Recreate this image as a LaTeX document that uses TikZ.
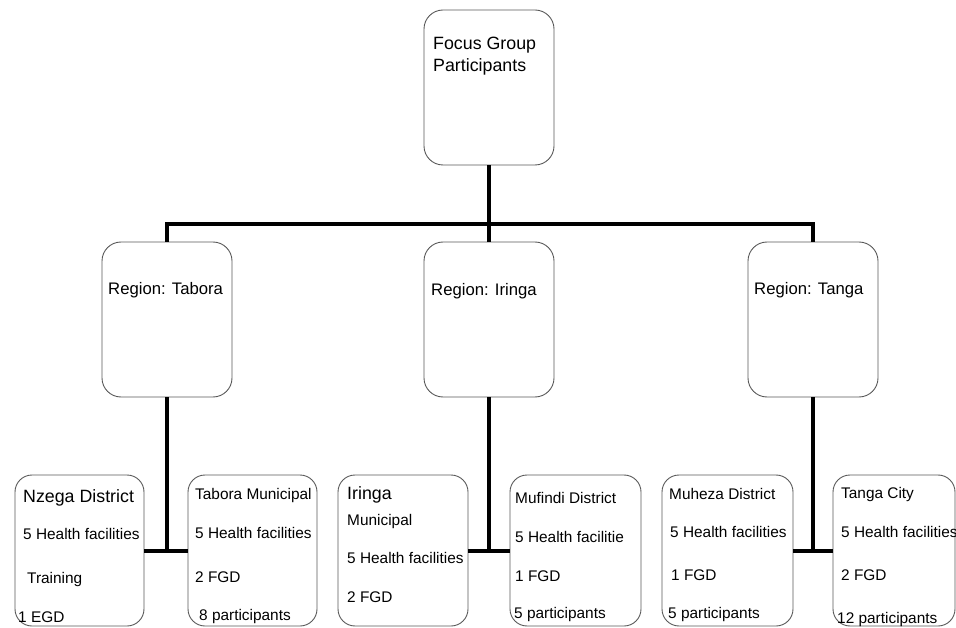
\documentclass[tikz,border=0pt]{standalone}
\usepackage{fontspec}
\setmainfont{Liberation Sans}
\begin{document}
\begin{tikzpicture}[x=1pt,y=-1pt,
  box/.style={draw=black!65,line width=0.9pt,rounded corners=19pt,rectangle,inner sep=0pt},
  lowbox/.style={box,rounded corners=17pt,minimum height=151pt},
  conn/.style={line width=3.6pt,black},
  txt/.style={anchor=base west,inner sep=0pt,font=\fontsize{15.4}{18}\selectfont},
  bigtxt/.style={anchor=base west,inner sep=0pt,font=\fontsize{17.8}{21}\selectfont},
  regtxt/.style={anchor=base west,inner sep=0pt,font=\fontsize{16.7}{20}\selectfont}]
\useasboundingbox (0,0) rectangle (956,628);
% boxes
\node[box,minimum width=130pt,minimum height=155pt] (top) at (489,87.5) {};
\node[box,minimum width=130pt,minimum height=155pt] (tabR) at (167,319.5) {};
\node[box,minimum width=130pt,minimum height=155pt] (irR) at (489,319.5) {};
\node[box,minimum width=130pt,minimum height=155pt] (tanR) at (813,319.5) {};
\node[lowbox,minimum width=129pt] (nz) at (79.5,550.5) {};
\node[lowbox,minimum width=129pt] (tm) at (252.5,550.5) {};
\node[lowbox,minimum width=130pt] (im) at (403,550.5) {};
\node[lowbox,minimum width=131pt] (mu) at (575.5,550.5) {};
\node[lowbox,minimum width=131pt] (mh) at (727.5,550.5) {};
\node[lowbox,minimum width=122pt] (tc) at (894,550.5) {};
% connectors
\coordinate (j0) at (489,224);
\coordinate (bl) at (0,551);
\draw[conn] (top.south) -- (j0);
\draw[conn] (tabR.north) -- (tabR.north |- j0) -- (tanR.north |- j0) -- (tanR.north);
\draw[conn] (j0) -- (irR.north);
\draw[conn] (tabR.south) -- (tabR.south |- bl);
\draw[conn] (nz.east |- bl) -- (tm.west |- bl);
\draw[conn] (irR.south) -- (irR.south |- bl);
\draw[conn] (im.east |- bl) -- (mu.west |- bl);
\draw[conn] (tanR.south) -- (tanR.south |- bl);
\draw[conn] (mh.east |- bl) -- (tc.west |- bl);
% texts
\node[bigtxt] (t1) at (433,50) {Focus Group};
\node[bigtxt] (t2) at (433,72) {Participants};
\node[regtxt] (r1) at (108,295) {Region: Tabora};
\node[regtxt] (r2) at (431,296) {Region: Iringa};
\node[regtxt] (r3) at (754,295) {Region: Tanga};
% Nzega
\node[bigtxt] (a1) at (23,502) {Nzega District};
\node[txt] (a2) at (23,539) {5 Health facilities};
\node[txt] (a3) at (27,583) {Training};
\node[txt] (a4) at (18,622) {1 EGD};
% Tabora Municipal
\node[txt] (b1) at (195,499) {Tabora Municipal};
\node[txt] (b2) at (195,538) {5 Health facilities};
\node[txt] (b3) at (195,582) {2 FGD};
\node[txt] (b4) at (199,620) {8 participants};
% Iringa Municipal
\node[bigtxt] (c1) at (347,499) {Iringa};
\node[txt] (c2) at (347,525) {Municipal};
\node[txt] (c3) at (347,563) {5 Health facilities};
\node[txt] (c4) at (347,602) {2 FGD};
% Mufindi
\node[txt] (d1) at (515,503) {Mufindi District};
\node[txt] (d2) at (515,542) {5 Health facilitie};
\node[txt] (d3) at (515,581) {1 FGD};
\node[txt] (d4) at (514,618) {5 participants};
% Muheza
\node[txt] (e1) at (669,499) {Muheza District};
\node[txt] (e2) at (670,537) {5 Health facilities};
\node[txt] (e3) at (671,580) {1 FGD};
\node[txt] (e4) at (668,618) {5 participants};
% Tanga City
\node[txt] (f1) at (841,498) {Tanga City};
\node[txt] (f2) at (841,537) {5 Health facilities};
\node[txt] (f3) at (841,580) {2 FGD};
\node[txt] (f4) at (837,623) {12 participants};
\end{tikzpicture}
\end{document}
